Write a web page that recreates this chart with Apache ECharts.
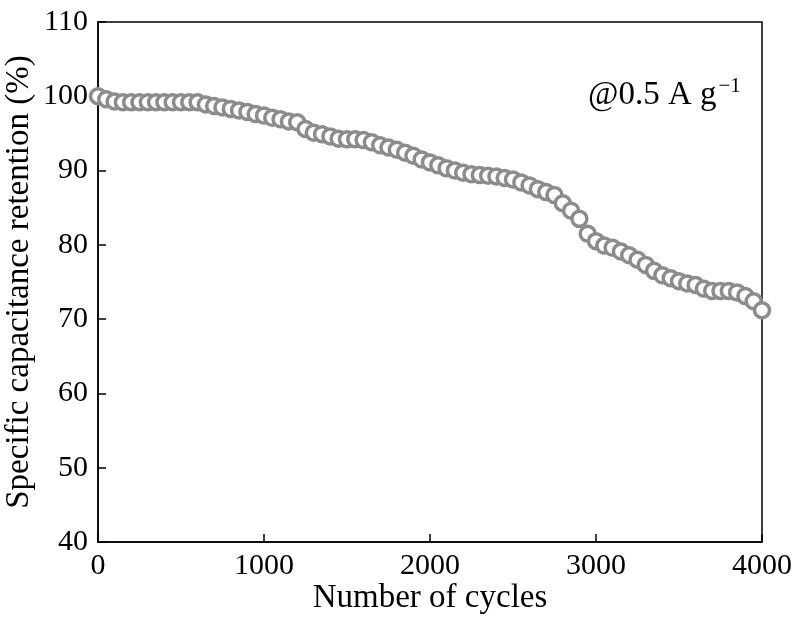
<!DOCTYPE html>
<html>
<head>
<meta charset="utf-8">
<script src="https://cdn.jsdelivr.net/npm/echarts@6/dist/echarts.min.js"></script>
<style>html,body{margin:0;padding:0;background:#fff;}#c{width:795px;height:630px;}</style>
</head>
<body>
<div id="c"></div>
<script>
var cycles = [0,50,100,150,200,250,300,350,400,450,500,550,600,650,700,750,800,850,900,950,
1000,1050,1100,1150,1200,1250,1300,1350,1400,1450,1500,1550,1600,1650,1700,1750,1800,1850,1900,1950,
2000,2050,2100,2150,2200,2250,2300,2350,2400,2450,2500,2550,2600,2650,2700,2750,2800,2850,2900,2950,
3000,3050,3100,3150,3200,3250,3300,3350,3400,3450,3500,3550,3600,3650,3700,3750,3800,3850,3900,3950,4000];
var retention = [100.0,99.6,99.3,99.2,99.2,99.2,99.2,99.2,99.2,99.2,99.2,99.2,99.2,98.9,98.7,98.5,98.3,98.1,97.9,97.6,
97.4,97.1,96.9,96.6,96.5,95.6,95.1,94.9,94.6,94.3,94.2,94.2,94.1,93.8,93.4,93.1,92.8,92.4,92.0,91.5,
91.1,90.7,90.3,90.0,89.7,89.5,89.4,89.3,89.2,89.0,88.8,88.4,88.0,87.5,87.1,86.7,85.6,84.6,83.5,81.5,
80.5,79.9,79.6,79.1,78.6,78.0,77.3,76.5,75.9,75.5,75.1,74.8,74.6,74.1,73.8,73.8,73.8,73.6,73.1,72.4,71.2];
var xTicks = [0,1000,2000,3000,4000];
var yTicks = [40,50,60,70,80,90,100,110];

var font = '"Liberation Serif", "Times New Roman", serif';
var chart = echarts.init(document.getElementById('c'));
var data = cycles.map(function(c,i){return [c, retention[i]];});
chart.setOption({
  animation:false,
  backgroundColor:'#fff',
  grid:{left:98,right:33,top:22,bottom:88,containLabel:false,outerBoundsMode:'none',show:true,borderColor:'#000',borderWidth:1.5,backgroundColor:'transparent'},
  xAxis:{type:'value',min:xTicks[0],max:xTicks[xTicks.length-1],interval:1000,
    name:'Number of cycles',nameLocation:'middle',nameGap:40,nameMoveOverlap:false,
    nameTextStyle:{fontFamily:font,fontSize:33,color:'#000'},
    axisLine:{show:true,lineStyle:{color:'#000',width:1.5}},
    axisTick:{show:true,inside:true,length:8,lineStyle:{color:'#000',width:1.5}},
    axisLabel:{fontFamily:font,fontSize:30,color:'#000',margin:9,formatter:function(v){return String(v);}},
    splitLine:{show:false}},
  yAxis:{type:'value',min:yTicks[0],max:yTicks[yTicks.length-1],interval:10,
    name:'Specific capacitance retention (%)',nameLocation:'middle',nameGap:62,nameMoveOverlap:false,
    nameTextStyle:{fontFamily:font,fontSize:33,color:'#000'},
    axisLine:{show:true,lineStyle:{color:'#000',width:1.5}},
    axisTick:{show:true,inside:true,length:8,lineStyle:{color:'#000',width:1.5}},
    axisLabel:{fontFamily:font,fontSize:30,color:'#000',margin:10},
    splitLine:{show:false}},
  series:[{type:'scatter',data:data,symbol:'circle',symbolSize:15,
    itemStyle:{color:'#fff',borderColor:'#8c8c8c',borderWidth:3.5,opacity:1}}],
  graphic:[{type:'text',left:588,top:76,
    style:{text:'{a|@0.5 A g}{s|−1}',
      rich:{a:{fontFamily:font,fontSize:33,fill:'#000',lineHeight:36,verticalAlign:'bottom'},
            s:{fontFamily:font,fontSize:21,fill:'#000',verticalAlign:'top',lineHeight:36,padding:[0,0,0,2]}}}}]
});
</script>
</body>
</html>
